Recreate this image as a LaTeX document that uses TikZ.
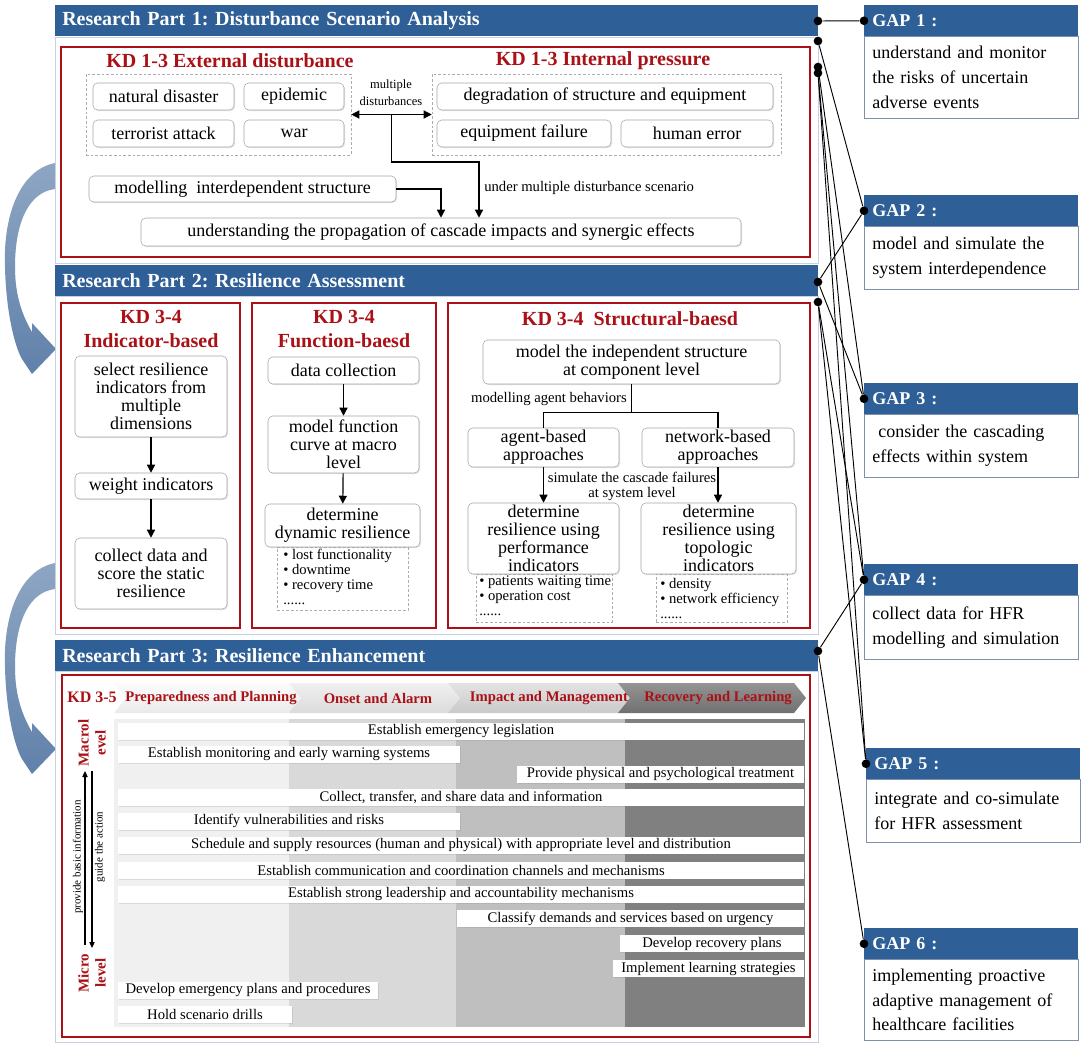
\documentclass[tikz,border=0pt]{standalone}
\usepackage{fontspec}
\setmainfont{Liberation Serif}
\usetikzlibrary{arrows.meta,shadows}

\definecolor{hdrblue}{RGB}{46,95,150}
\definecolor{kdred}{RGB}{170,16,22}
\definecolor{panelline}{RGB}{198,210,224}
\definecolor{gapline}{RGB}{125,145,172}
\definecolor{arrowtop}{RGB}{142,166,196}
\definecolor{arrowbot}{RGB}{96,129,170}

\newcommand{\txthdr}{\bfseries\fontsize{15}{17}\selectfont}
\newcommand{\txtkd}{\bfseries\fontsize{15}{18}\selectfont}
\newcommand{\txtkdsmall}{\bfseries\fontsize{12}{14}\selectfont}
\newcommand{\txtbox}{\fontsize{13.5}{13.6}\selectfont}
\newcommand{\txtgap}{\fontsize{13.5}{18.5}\selectfont}
\newcommand{\txtnote}{\fontsize{11}{11.25}\selectfont}
\newcommand{\txtmulti}{\fontsize{9.4}{12.75}\selectfont}
\newcommand{\txtbar}{\fontsize{11}{12}\selectfont}
\newcommand{\txtphase}{\bfseries\fontsize{11}{12}\selectfont}
\newcommand{\txtlevel}{\bfseries\fontsize{11.25}{12.8}\selectfont}
\newcommand{\txttiny}{\fontsize{8.25}{9}\selectfont}

\tikzset{
  boxwh/.style 2 args={minimum width=(#1)*0.75pt, minimum height=(#2)*0.75pt},
  panel/.style={draw=panelline, line width=0.8pt, fill=white, inner sep=0pt},
  parthdr/.style={fill=hdrblue, text=white, font=\txthdr, align=left,
    inner xsep=5.25pt, inner ysep=0pt, text width=561.75pt, minimum height=23.25pt},
  redbox/.style={draw=kdred, line width=1pt},
  kd/.style={text=kdred, font=\txtkd, align=center, inner sep=0pt},
  rbox/.style={draw=gray!70, rounded corners=3.5pt, fill=white, align=center,
    font=\txtbox, inner sep=0pt,
    drop shadow={opacity=0.22, shadow xshift=0.8pt, shadow yshift=-0.8pt}},
  dbox/.style={draw=gray!65, dash pattern=on 2pt off 1.5pt, inner sep=0pt},
  note/.style={font=\txtnote, inner sep=0pt},
  bar/.style={fill=white, font=\txtbar, inner sep=0pt,
    drop shadow={opacity=0.2, shadow xshift=0.8pt, shadow yshift=-0.8pt}},
  phase/.style={text=kdred, font=\txtphase, inner sep=0pt},
  gaphdr/.style={fill=hdrblue, text=white, font=\bfseries\fontsize{13.5}{15}\selectfont,
    align=left, text width=148.5pt, inner xsep=6pt, inner ysep=0pt, anchor=north west},
  gapbody/.style={draw=gapline, line width=0.7pt, fill=white, font=\txtgap,
    align=left, text width=148.5pt, inner xsep=6pt, inner ysep=0pt, anchor=north west},
  flow/.style={-{Triangle[length=6pt,width=6pt]}, line width=0.9pt},
  twoway/.style={{Triangle[length=6pt,width=6pt]}-{Triangle[length=6pt,width=6pt]}, line width=0.9pt},
  thinflow/.style={-{Triangle[length=4.5pt,width=4pt]}, line width=0.8pt},
  dot/.style={circle, fill=black, inner sep=0pt, minimum size=6.5pt},
  link/.style={line width=0.7pt}
}

\begin{document}
\frenchspacing
\begin{tikzpicture}[x=0.75pt,y=-0.75pt]
\fill[white] (0,0) rectangle (1084,1046);
\useasboundingbox (0,0) rectangle (1084,1046);

% curved arrows between the parts
\foreach \dy in {0,400}{
  \shade[top color=arrowtop, bottom color=arrowbot]
    (55,163+\dy) .. controls (20,170+\dy) and (3,215+\dy) .. (5,267+\dy)
    .. controls (6,310+\dy) and (14,345+\dy) .. (22,359+\dy)
    -- (32,374+\dy) -- (56,349+\dy) -- (32,323+\dy) -- (32,332+\dy)
    .. controls (22,315+\dy) and (15,295+\dy) .. (15,267+\dy)
    .. controls (15,220+\dy) and (30,192+\dy) .. (55,189+\dy) -- cycle;
}

% ---------------- Research Part 1
\node[panel, boxwh={763}{226}, anchor=north west] (bodyA) at (55,37) {};
\node[parthdr, anchor=north west] (hdrA) at (55,5) {Research Part 1: Disturbance Scenario Analysis};
\draw[redbox] (61,47) rectangle (810,257);
\node[kd] (kdExt) at (230,61) {KD 1-3 External disturbance};
\node[kd] (kdInt) at (603,61) {KD 1-3 Internal pressure};
\node[dbox, boxwh={265}{81}] (ext) at (218.5,114.5) {};
\node[dbox, boxwh={349}{81}] (int) at (606.5,114.5) {};
\node[rbox, boxwh={141}{27}] (natural) at (163.5,96.5) {natural disaster};
\node[rbox, boxwh={100}{27}] (epidemic) at (294,96.5) {epidemic};
\node[rbox, boxwh={141}{27}] (terror) at (163.5,133.5) {terrorist attack};
\node[rbox, boxwh={100}{27}] (war) at (294,133.5) {war};
\node[rbox, boxwh={336}{27}] (degrade) at (605,96.5) {degradation of structure and equipment};
\node[rbox, boxwh={174}{27}] (failure) at (524,133.5) {equipment failure};
\node[rbox, boxwh={152}{27}] (human) at (697,133.5) {human error};
\node[font=\txtmulti, align=center, inner sep=0pt] (multi) at (391,93) {multiple\\disturbances};
\draw[twoway] (ext) -- (int) coordinate[midway] (mid);
\node[rbox, boxwh={307}{26}] (interdep) at (242.5,189) {modelling\ \ interdependent structure};
\node[rbox, boxwh={600}{28}] (cascade) at (441,232) {understanding the propagation of cascade impacts and synergic effects};
\draw[flow] (interdep.east) -| (cascade.north);
\coordinate (bend) at (479,162);
\draw[flow] (mid) |- (bend) -- (bend |- cascade.north);
\node[note, anchor=west] (scen) at (484,188) {under multiple disturbance scenario};

% ---------------- Research Part 2
\node[panel, boxwh={763}{338}, anchor=north west] (bodyB) at (55,296) {};
\node[parthdr, anchor=north west] (hdrB) at (55,265) {Research Part 2: Resilience Assessment};
\draw[redbox] (61,303) rectangle (240,628);
\draw[redbox] (252,303) rectangle (436,628);
\draw[redbox] (448,303) rectangle (810,628);
\node[kd] (kdInd) at (151,329) {KD 3-4\\Indicator-based};
\node[kd] (kdFun) at (344,329) {KD 3-4\\Function-baesd};
\node[kd] (kdStr) at (630,319) {KD 3-4~~Structural-baesd};

\node[rbox, boxwh={152}{81}] (select) at (151,396.5) {select resilience\\indicators from\\multiple\\dimensions};
\node[rbox, boxwh={152}{26}] (weight) at (151,486) {weight indicators};
\node[rbox, boxwh={152}{71}] (static) at (151,573.5) {collect data and\\score the static\\resilience};
\draw[flow] (select) -- (weight);
\draw[flow] (weight) -- (static);

\node[dbox, boxwh={131}{63}, anchor=north] (dynlist) at (342.5,547) {};
\node[rbox, boxwh={151}{27}] (datacol) at (343.5,370.5) {data collection};
\node[rbox, boxwh={151}{57}] (curve) at (343.5,444.5) {model function\\curve at macro\\level};
\node[rbox, boxwh={155}{43}] (dynamic) at (342.5,525.5) {determine\\dynamic resilience};
\draw[flow] (datacol) -- (curve);
\draw[flow] (curve) -- (dynamic);
\node[note, anchor=north west, align=left] (dynitems) at (283,549) {\textbullet\ lost functionality\\\textbullet\ downtime\\\textbullet\ recovery time\\......};

\node[rbox, boxwh={297}{44}] (indep) at (631.5,362) {model the independent structure\\at component level};
\node[rbox, boxwh={151}{39}] (agent) at (543.5,447.5) {agent-based\\approaches};
\node[rbox, boxwh={152}{39}] (network) at (718,447.5) {network-based\\approaches};
\draw[line width=0.9pt] (indep.south) -- ++(0,28) coordinate (split);
\draw[line width=0.9pt] (agent.north) |- (split) -| (network.north);
\node[note, anchor=east] (behav) at (627,399) {modelling agent behaviors};
\node[dbox, boxwh={136}{48}, anchor=north] (perflist) at (544,574) {};
\node[dbox, boxwh={131}{48}, anchor=north] (topolist) at (721.5,574) {};
\node[rbox, boxwh={151}{71}] (perf) at (543.5,538.5) {determine\\resilience using\\performance\\indicators};
\node[rbox, boxwh={155}{71}] (topo) at (718.5,538.5) {determine\\resilience using\\topologic\\indicators};
\draw[flow] (agent) -- (perf);
\draw[flow] (network.south) -- (network.south |- topo.north);
\node[note, align=center] (simul) at (632,486) {simulate the cascade failures\\at system level};
\node[note, anchor=north west, align=left] (perfitems) at (479,576) {\textbullet\ patients waiting time\\\textbullet\ operation cost\\......};
\node[note, anchor=north west, align=left] (topoitems) at (660,578) {\textbullet\ density\\\textbullet\ network efficiency\\......};

% ---------------- Research Part 3
\node[panel, boxwh={763}{371}, anchor=north west] (bodyC) at (55,671) {};
\node[parthdr, anchor=north west] (hdrC) at (55,640) {Research Part 3: Resilience Enhancement};
\draw[redbox] (62,675) rectangle (810,1037);
\fill[gray!12] (114,719) rectangle (289,1027);
\fill[gray!30] (289,719) rectangle (456,1027);
\fill[gray!50] (456,719) rectangle (625,1027);
\fill[black!50] (625,719) rectangle (805,1027);
% phases
\foreach \xa/\xb/\ct/\cb in {114/289/gray!3/gray!16, 289/448/gray!12/gray!28,
                             448/618/gray!22/gray!42, 618/794/black!42/black!56}{
  \shade[top color=\ct, bottom color=\cb] (\xa,683) -- (\xb,683) -- (\xb+12,698)
    -- (\xb,713) -- (\xa,713) -- (\xa+12,698) -- cycle;
}
\node[text=kdred, font=\txtkdsmall, inner sep=0pt] (kd35) at (92,697) {KD 3-5};
\node[phase] (ph1) at (211,698) {Preparedness and Planning};
\node[phase] (ph2) at (378,698) {Onset and Alarm};
\node[phase] (ph3) at (549,698) {Impact and Management};
\node[phase] (ph4) at (718,698) {Recovery and Learning};
% measures
\foreach \xa/\xb/\yc/\nm/\txt in {
  118/804/731/legis/{Establish emergency legislation},
  118/460/754/monit/{Establish monitoring and early warning systems},
  517/804/774/treat/{Provide physical and psychological treatment},
  118/804/797.5/share/{Collect, transfer, and share data and information},
  118/460/821/ident/{Identify vulnerabilities and risks},
  118/804/845/sched/{Schedule and supply resources (human and physical) with appropriate level and distribution},
  118/804/870/commu/{Establish communication and coordination channels and mechanisms},
  118/804/894/leader/{Establish strong leadership and accountability mechanisms},
  457/804/918.5/classify/{Classify demands and services based on urgency},
  620/804/943.5/recplan/{Develop recovery plans},
  613/804/968.5/learn/{Implement learning strategies},
  118/378/990/emplan/{Develop emergency plans and procedures},
  118/292/1014/drill/{Hold scenario drills}}{
  \node[bar, boxwh={\xb-\xa}{17}] (\nm) at ({(\xa+\xb)/2},\yc) {\txt};
}
% levels
\node[text=kdred, font=\txtlevel, align=center, inner sep=0pt, rotate=90] (macro) at (92,743) {Macrol\\evel};
\node[text=kdred, font=\txtlevel, align=center, inner sep=0pt, rotate=90] (micro) at (92,973) {Micro\\level};
\coordinate (upS) at (85,945);
\coordinate (upE) at (85,771);
\coordinate (dnS) at (92,771);
\coordinate (dnE) at (92,948);
\draw[thinflow] (upS) -- (upE);
\draw[thinflow] (dnS) -- (dnE);
\node[font=\txttiny, inner sep=0pt, rotate=90] (provide) at (78,857) {provide basic information};
\node[font=\txttiny, inner sep=0pt, rotate=90] (guide) at (100,847) {guide the action};

% ---------------- gaps
\foreach \n/\gx/\gy/\gh/\txt in {
  1/864/5/82/{understand and monitor\\the risks of uncertain\\adverse events},
  2/864/195/63/{model and simulate the\\system interdependence},
  3/864/383/63/{\ consider the cascading\\effects within system},
  4/864/564/64/{collect data for HFR\\modelling and simulation},
  5/866/748/63/{integrate and co-simulate\\for HFR assessment},
  6/864/928/81/{implementing proactive\\adaptive management of\\healthcare facilities}}{
  \node[gapbody, minimum height=(\gh)*0.75pt] (gapb\n) at (\gx,\gy+31) {\txt};
  \node[gaphdr, minimum height=23.25pt] (gap\n) at (\gx,\gy) {GAP \n\ :};
  \node[dot] (gdot\n) at (gap\n.west) {};
}

% dots on the parts
\node[dot] (dA1) at (818,21) {};
\node[dot] (dA2) at (818,41) {};
\node[dot] (dA3) at (818,67) {};
\node[dot] (dA4) at (818,73) {};
\node[dot] (dB1) at (818,282) {};
\node[dot] (dB2) at (818,302) {};
\node[dot] (dC1) at (818,651) {};

\foreach \a/\b in {dA1/gdot1, dA2/gdot2, dA3/gdot3, dA4/gdot4, dA4/gdot5,
                   dB1/gdot2, dB1/gdot3, dB2/gdot4, dB2/gdot5, dC1/gdot4, dC1/gdot6}
  \draw[link] (\a) -- (\b);
\end{tikzpicture}
\end{document}
